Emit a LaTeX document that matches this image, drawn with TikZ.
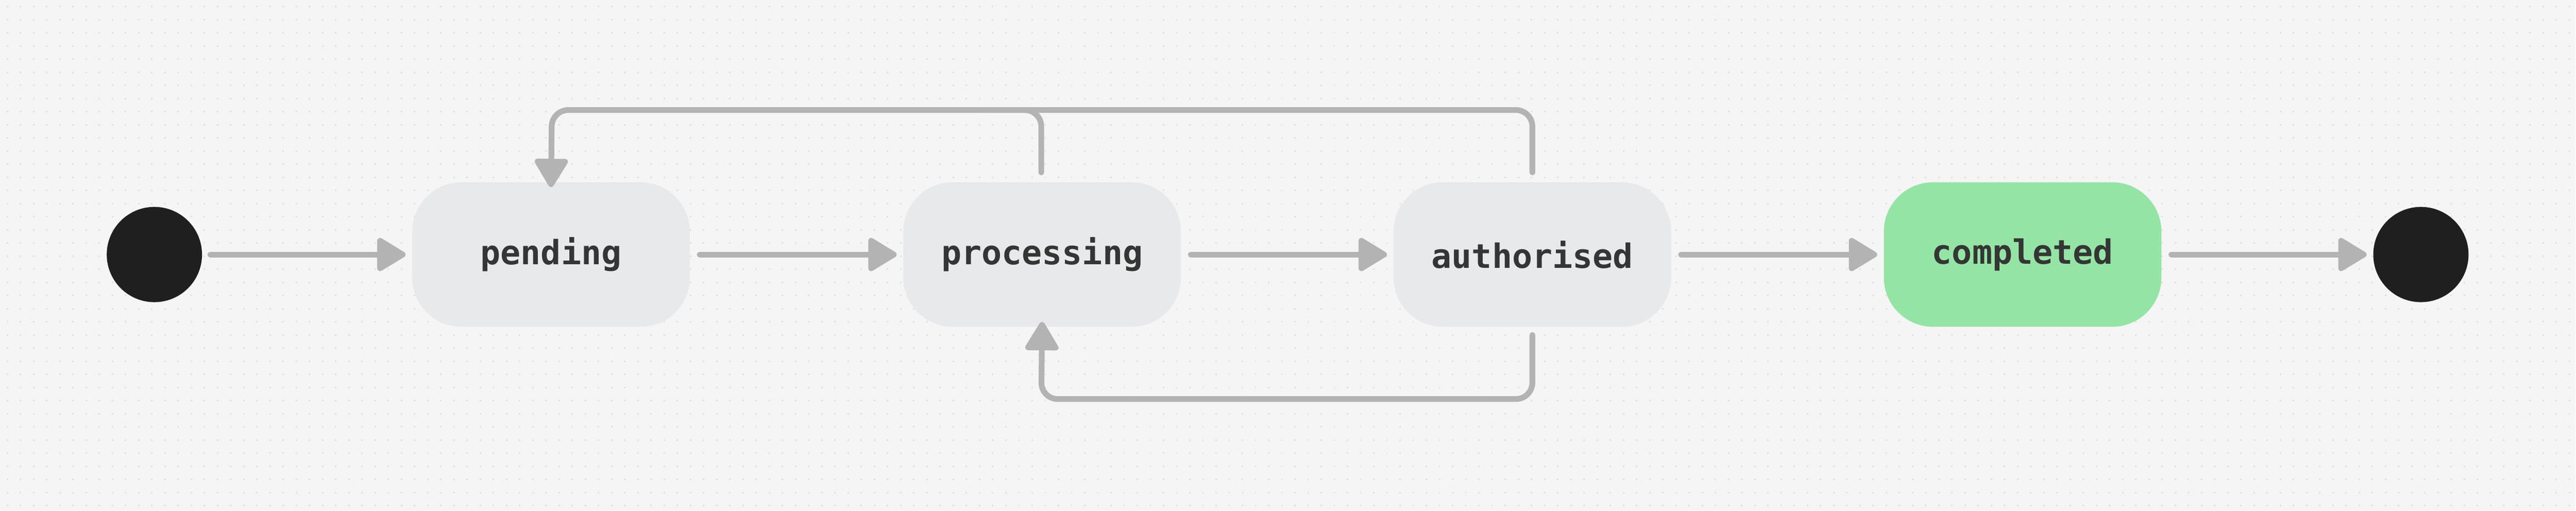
\documentclass[tikz,border=0pt]{standalone}
\usepackage{fontspec}
\setmonofont{DejaVu Sans Mono}
\usetikzlibrary{arrows.meta}
\definecolor{bg}{HTML}{F5F5F5}
\definecolor{boxg}{HTML}{E8E9EA}
\definecolor{boxgreen}{HTML}{94E5A5}
\definecolor{edge}{HTML}{B3B3B3}
\definecolor{ink}{HTML}{1F1F1F}
\tikzset{
 state/.style={fill=boxg,rounded corners=30mm,minimum width=169mm,minimum height=88mm,
   font=\ttfamily\bfseries\fontsize{58}{70}\selectfont,text=ink!90},
 final/.style={state,fill=boxgreen},
 dot/.style={circle,fill=ink,minimum size=58mm,inner sep=0},
 conn/.style={draw=edge,line width=3.5mm,line cap=round,rounded corners=10mm,
   -{Triangle[length=19mm,width=22mm,round]}},
 plain/.style={draw=edge,line width=3.5mm,line cap=round,rounded corners=10mm}
}
\begin{document}
\begin{tikzpicture}[x=1mm,y=-1mm]
\fill[bg] (0,0) rectangle (1568,311);
\foreach \j in {0,...,38}{\draw[black!12,line width=0.9mm,dash pattern=on 0.9mm off 7.1mm] (4,\j*8+4) -- (1568,\j*8+4);}
\node[dot] (s) at (94,155) {};
\node[state] (p) at (335.5,155) {pending};
\node[state] (q) at (634.5,155) {processing};
\node[state] (a) at (933,155) {authorised};
\node[final] (c) at (1231.5,155) {completed};
\node[dot] (e) at (1474,155) {};
\coordinate (qt) at (634,105);
\coordinate (at) at (933,105);
\coordinate (ab) at (933,204);
\draw[conn] ([xshift=5mm]s.east) -- ([xshift=-4mm]p.west);
\draw[conn] ([xshift=6mm]p.east) -- ([xshift=-4mm]q.west);
\draw[conn] ([xshift=6mm]q.east) -- ([xshift=-4mm]a.west);
\draw[conn] ([xshift=6mm]a.east) -- ([xshift=-4mm]c.west);
\draw[conn] ([xshift=6mm]c.east) -- ([xshift=-4mm]e.west);
\draw[conn] (at) -- (933,67) -- (336,67) -- ([yshift=-3mm]p.north);
\draw[plain] (qt) -- (634,67) -- (600,67);
\draw[conn] (ab) -- (933,243) -- (634,243) -- ([yshift=3mm]q.south);
\end{tikzpicture}
\end{document}
